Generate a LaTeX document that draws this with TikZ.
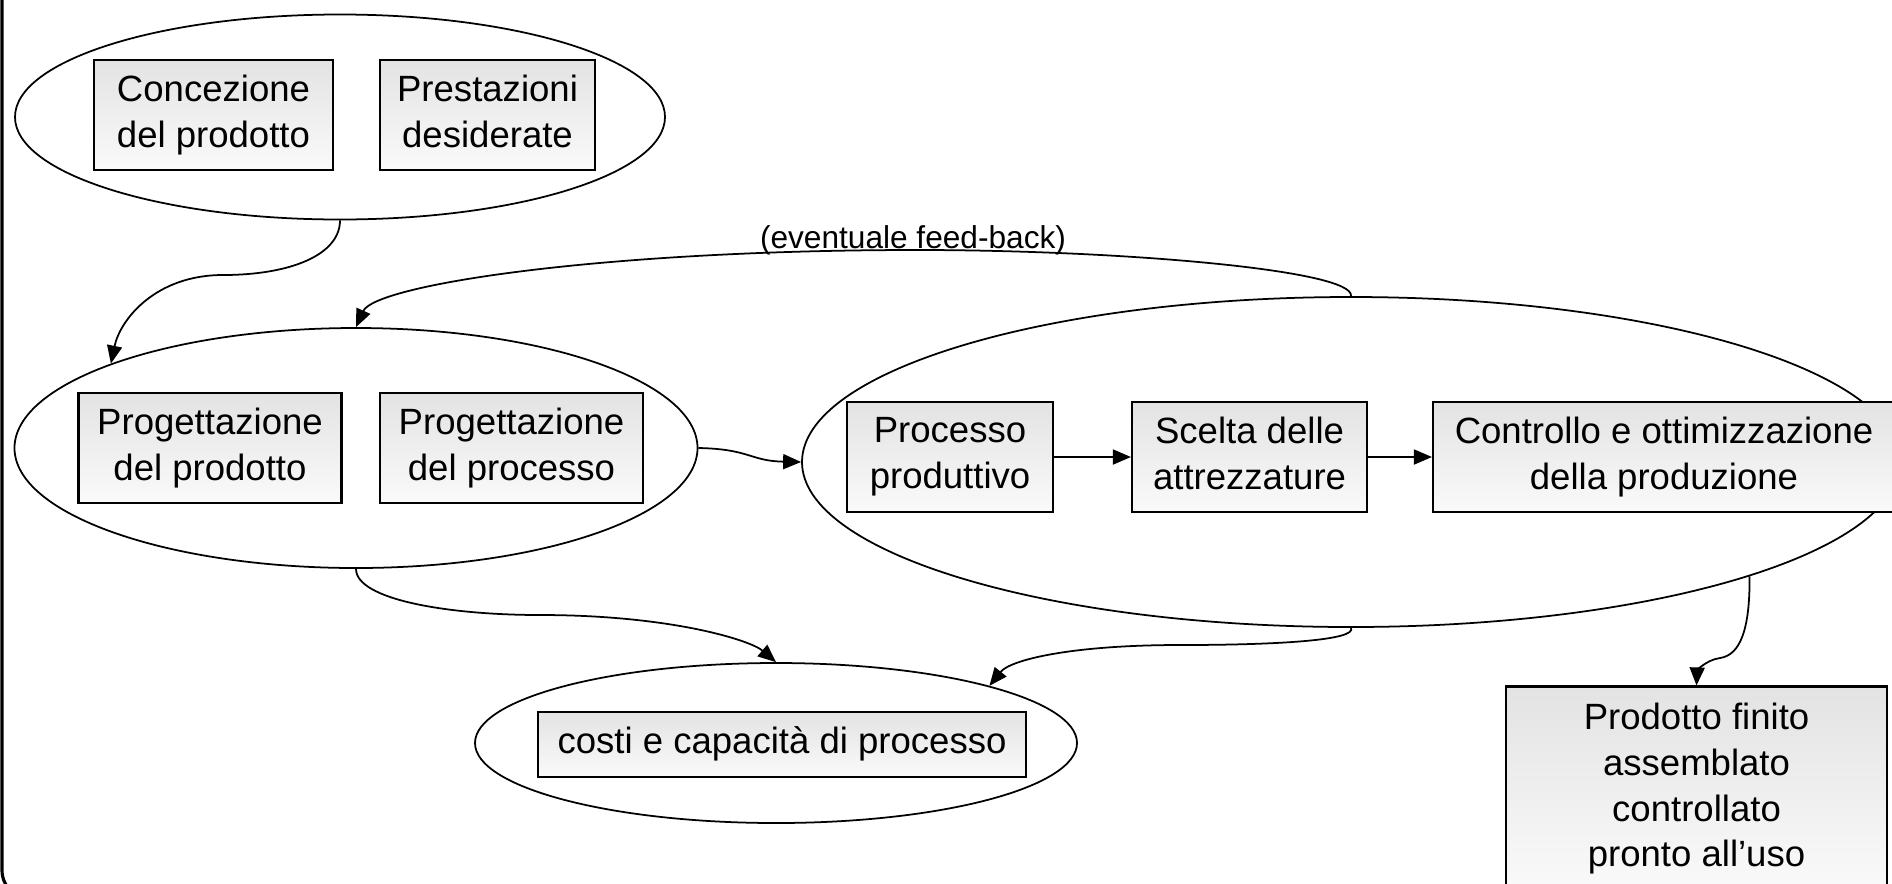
\documentclass[tikz,border=0pt]{standalone}
\usepackage{fontspec}
\setmainfont{Liberation Sans}
\usetikzlibrary{shapes.geometric,arrows.meta}

\tikzset{
  blob/.style={draw, ellipse, inner sep=0pt, line width=0.5pt},
  box/.style={draw, rectangle, align=center, inner sep=0pt, line width=0.6pt,
    text depth=0.8mm, top color=black!11, bottom color=black!2},
  conn/.style={-{Triangle[length=1.8mm,width=1.5mm]}, line width=0.5pt},
}

\begin{document}
\begin{tikzpicture}[font=\fontsize{10.4}{13}\selectfont]
			%%%%% START %%%%%
			\clip (0,0) rectangle (18.92,-8.83);
			\draw[line width=0.9pt] (0.02,0.5) -- (0.02,-8.7) arc (180:270:0.3) -- (6,-9.0);
			
			% ideazione
			\node[blob, minimum width=6.50cm, minimum height=2.05cm] (ideaz) at (3.40,-1.17) {};
			\node[box, fill=black!6, minimum width=2.39cm, minimum height=1.10cm] (concez) at (2.135,-1.15) {Concezione\\del prodotto};
			\node[box, fill=black!6, minimum width=2.15cm, minimum height=1.10cm] (prestaz) at (4.875,-1.15) {Prestazioni\\desiderate};
			
			% progettazione
			\node[blob, minimum width=6.83cm, minimum height=2.40cm] (progett) at (3.56,-4.48) {};
			\node[box, minimum width=2.63cm, minimum height=1.10cm] (progprod) at (2.10,-4.48) {Progettazione\\del prodotto};
			\node[box, minimum width=2.63cm, minimum height=1.10cm] (progproc) at (5.115,-4.48) {Progettazione\\del processo};
			
			% produzione
			\node[blob, minimum width=10.98cm, minimum height=3.30cm] (produz) at (13.51,-4.62) {};
			\node[box, minimum width=2.06cm, minimum height=1.10cm] (processo) at (9.50,-4.57) {Processo\\produttivo};
			\node[box, minimum width=2.35cm, minimum height=1.10cm] (scelta) at (12.495,-4.57) {Scelta delle\\attrezzature};
			\node[box, minimum width=4.62cm, minimum height=1.10cm] (controllo) at (16.64,-4.57) {Controllo e ottimizzazione\\della produzione};
			
			% costi
			\node[blob, minimum width=6.02cm, minimum height=1.60cm] (costi) at (7.76,-7.43) {};
			\node[box, minimum width=4.88cm, minimum height=0.65cm] (costibox) at (7.82,-7.445) {costi e capacità di processo};
			
			\node[box, minimum width=3.81cm, minimum height=2.05cm] (prodotto) at (16.965,-7.89) {Prodotto finito\\assemblato\\controllato\\pronto all’uso};
			
			\node[font=\fontsize{9}{11}\selectfont] (fblabel) at (9.13,-2.40) {(eventuale feed-back)};
			
			% connessioni
			\draw[conn] (processo) -- (scelta);
			\draw[conn] (scelta) -- (controllo);
			\draw[conn] (ideaz.south) .. controls (3.40,-2.55) and (2.9,-2.75) .. (2.23,-2.75) .. controls (1.55,-2.75) and (1.2,-3.2) .. (progett.161);
			\draw[conn] (produz.north) .. controls (13.55,-2.7) and (11.2,-2.5) .. (9.17,-2.5) .. controls (6.0,-2.5) and (3.75,-2.85) .. (progett.north);
			\draw[conn] (progett.east) .. controls (7.5,-4.49) and (7.5,-4.61) .. (produz.west);
			\draw[conn] (progett.south) .. controls (3.56,-6.0) and (4.5,-6.15) .. (5.4,-6.15) .. controls (6.7,-6.15) and (7.5,-6.4) .. (costi.north);
			\draw[conn] (produz.south) .. controls (13.57,-6.4) and (12.8,-6.45) .. (11.8,-6.45) .. controls (10.7,-6.45) and (10.1,-6.6) .. (costi.15);
			\draw[conn] (produz.-16) .. controls (17.5,-6.3) and (17.4,-6.55) .. (17.2,-6.58) .. controls (17.05,-6.6) and (16.97,-6.72) .. (prodotto.north);
			%%%%% END %%%%%
\end{tikzpicture}
\end{document}
